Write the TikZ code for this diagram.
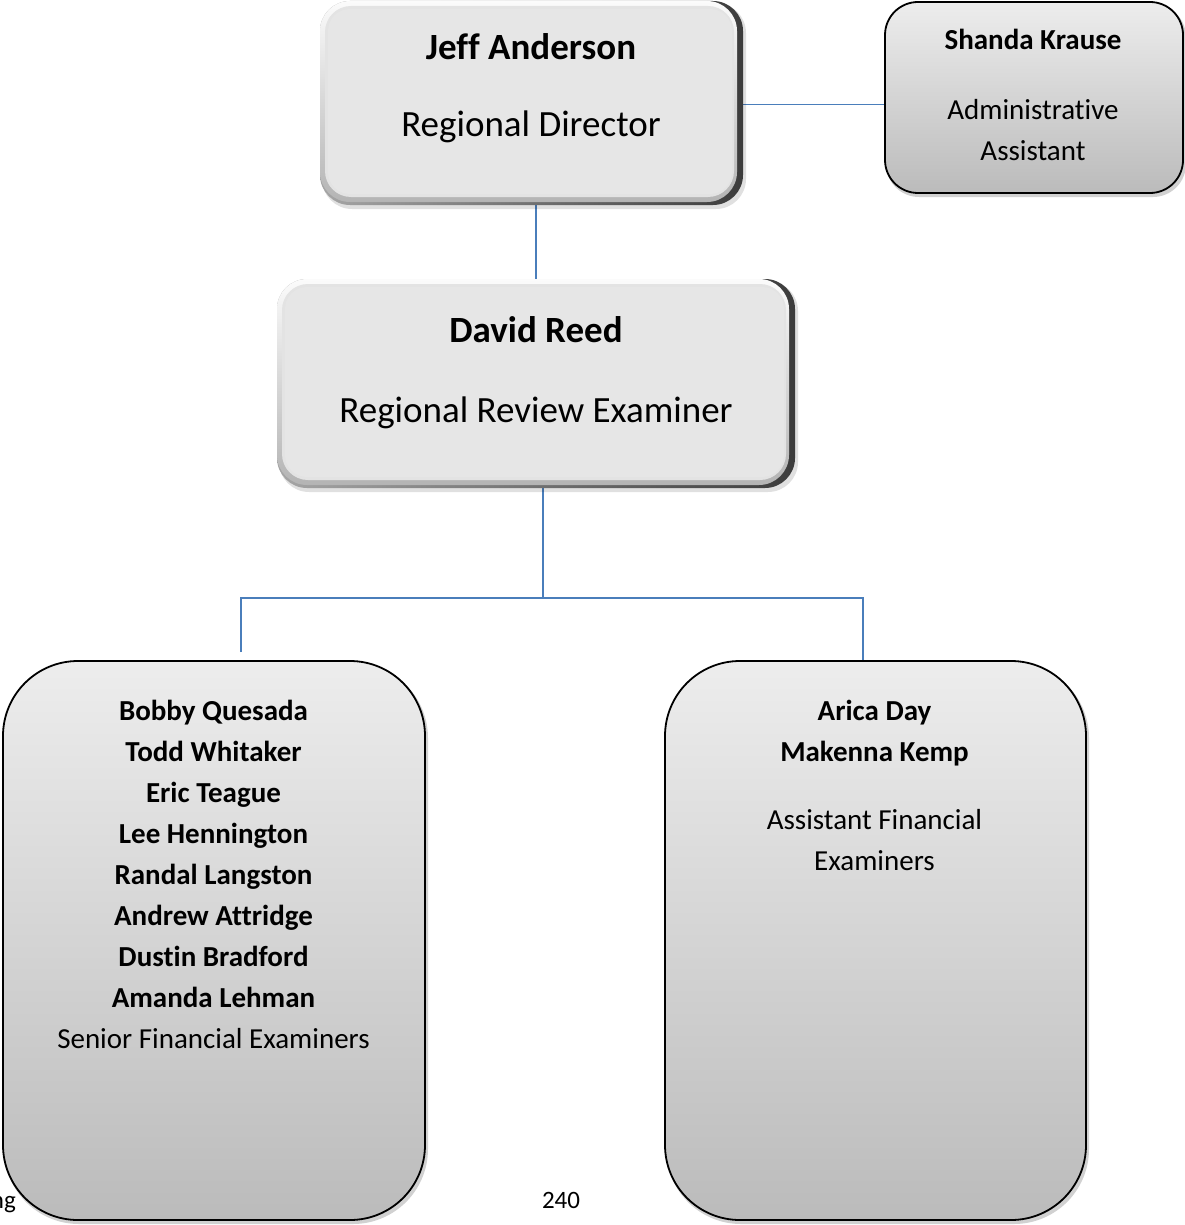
\documentclass[tikz,border=0pt]{standalone}
\usepackage{fontspec}
\setmainfont{Carlito}[RawFeature={-liga}]
\definecolor{connblue}{HTML}{4A7EBB}
\definecolor{facegray}{HTML}{E6E6E6}
\definecolor{bevellight}{HTML}{FBFBFB}
\definecolor{bevelmid}{HTML}{B4B4B4}
\definecolor{beveldark}{HTML}{3C3C3C}
\definecolor{flattop}{HTML}{EDEDED}
\definecolor{flatbottom}{HTML}{BBBBBB}

% raised (bevelled) box drawn around an empty node
\newcommand\bevelbox[1]{%
  \fill[black,opacity=.12,rounded corners=30pt]
    ([xshift=2pt,yshift=-2pt]#1.north west) rectangle ([xshift=3pt,yshift=-4pt]#1.south east);
  \shade[left color=gray!70,right color=beveldark,rounded corners=30pt]
    (#1.north west) rectangle (#1.south east);
  \shade[top color=bevellight,bottom color=bevelmid,rounded corners=30pt]
    (#1.north west) rectangle ([xshift=-6pt,yshift=3pt]#1.south east);
  \fill[gray!22,rounded corners=26pt]
    ([xshift=5pt,yshift=-5pt]#1.north west) rectangle ([xshift=-9pt,yshift=8pt]#1.south east);
  \fill[facegray,rounded corners=22pt]
    ([xshift=8pt,yshift=-8pt]#1.north west) rectangle ([xshift=-11pt,yshift=11pt]#1.south east);
}
% flat box with vertical gradient and black outline
\newcommand\flatbox[2]{%
  \fill[black,opacity=.18,rounded corners=#2]
    ([xshift=1pt,yshift=-2pt]#1.north west) rectangle ([xshift=3pt,yshift=-4pt]#1.south east);
  \shade[top color=flattop,bottom color=flatbottom,rounded corners=#2]
    (#1.north west) rectangle (#1.south east);
  \draw[black,line width=1.8pt,rounded corners=#2]
    (#1.north west) rectangle (#1.south east);
}

\begin{document}
\begin{tikzpicture}[x=1pt,y=-1pt,
  conn/.style={draw=connblue,line width=1.5pt},
  boxnode/.style={rectangle,inner sep=0pt,outer sep=0pt,draw=none},
  bigname/.style={font=\fontsize{37}{44}\selectfont\bfseries,anchor=base,inner sep=0pt},
  bigtitle/.style={font=\fontsize{37}{44}\selectfont,anchor=base,inner sep=0pt},
  smallname/.style={font=\fontsize{29}{35}\selectfont\bfseries,anchor=base,inner sep=0pt},
  smalltitle/.style={font=\fontsize{29}{35}\selectfont,anchor=base,inner sep=0pt},
  footer/.style={font=\fontsize{25}{30}\selectfont,anchor=base,inner sep=0pt},
]
\fill[white] (0,0) rectangle (1184,1225);
\useasboundingbox (0,0) rectangle (1184,1225);

% page footer fragments
\node[footer,anchor=base east] (footleft) at (16,1208) {ng};
\node[footer] (pagenum) at (561,1208) {240};

% box outlines
\node[boxnode,minimum width=423pt,minimum height=204pt] (jeff)   at (531.5,103) {};
\node[boxnode,minimum width=298pt,minimum height=191pt] (shanda) at (1034,97.5) {};
\node[boxnode,minimum width=518pt,minimum height=209pt] (david)  at (536,383.5) {};
\node[boxnode,minimum width=422pt,minimum height=559pt] (sfe)    at (214,940.5) {};
\node[boxnode,minimum width=421pt,minimum height=559pt] (afe)    at (875.5,940.5) {};

% connectors
\coordinate (busL) at (241,598);
\coordinate (busR) at (863,598);
\coordinate (dropL) at (241,652);
\draw[conn] ([yshift=-1.5pt]jeff.east) -- ([yshift=-1.5pt]jeff.east -| shanda.west);
\draw[conn] (david.north) -- (david.north |- jeff.south);
\draw[conn] ([xshift=7pt]david.south) -- ([xshift=7pt]david.south |- busL);
\draw[conn] (dropL) -- (busL) -- (busR) -- (busR |- afe.north);

% box bodies
\bevelbox{jeff}
\bevelbox{david}
\flatbox{shanda}{33pt}
\flatbox{sfe}{75pt}
\flatbox{afe}{75pt}

% Regional Director
\node[bigname]  (jeffname)  at (531,60)  {Jeff Anderson};
\node[bigtitle] (jefftitle) at (531,137) {Regional Director};

% Administrative Assistant
\node[smallname]  (shandaname) at (1033,50)  {Shanda Krause};
\node[smalltitle] (shandat1)   at (1033,120) {Administrative};
\node[smalltitle] (shandat2)   at (1033,161) {Assistant};

% Regional Review Examiner
\node[bigname]  (davidname)  at (536,342) {David Reed};
\node[bigtitle] (davidtitle) at (536,422) {Regional Review Examiner};

% Senior Financial Examiners
\foreach \who [count=\i] in {Bobby Quesada,Todd Whitaker,Eric Teague,Lee Hennington,
    Randal Langston,Andrew Attridge,Dustin Bradford,Amanda Lehman}
  \node[smallname] (sfe\i) at (213.5,{679+41.1*\i}) {\who};
\node[smalltitle] (sfetitle) at (213.5,1048) {Senior Financial Examiners};

% Assistant Financial Examiners
\node[smallname]  (afe1)   at (874.5,720) {Arica Day};
\node[smallname]  (afe2)   at (874.5,761) {Makenna Kemp};
\node[smalltitle] (afet1)  at (874.5,829) {Assistant Financial};
\node[smalltitle] (afet2)  at (874.5,870) {Examiners};
\end{tikzpicture}
\end{document}
